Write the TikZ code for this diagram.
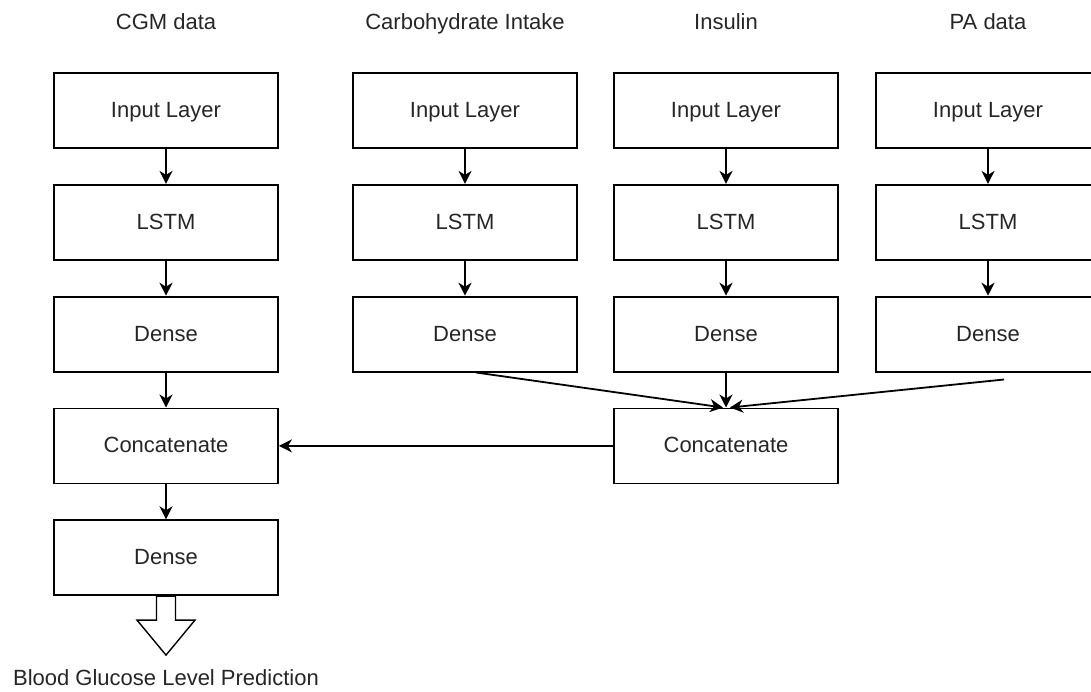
\documentclass[tikz,border=0pt]{standalone}
\usepackage{fontspec}
\setmainfont{Liberation Sans}
\usetikzlibrary{arrows.meta,positioning,calc}

\begin{document}
\begin{tikzpicture}[
    x=1pt, y=-1pt,
    % --- Styles ---
    layer/.style={draw, line width=1.8pt, minimum width=224pt, minimum height=75pt,
                  align=center, font=\fontsize{22}{26}\selectfont, text=black!85,
                  text height=16pt, text depth=2pt},
    title/.style={font=\fontsize{22}{26}\selectfont, text=black!85,
                  text height=16pt, text depth=2pt},
    flow/.style={-{Stealth[length=13pt, width=13pt, inset=4pt]}, line width=1.8pt},
    outarrow/.style={draw, line width=1.4pt, fill=white, line join=miter},
]

\useasboundingbox (0,0) rectangle (1091,691);

% === Column titles ===
\node[title] (t1) at (166,22) {CGM data};
\node[title] (t2) at (465,22) {Carbohydrate Intake};
\node[title] (t3) at (726,22) {Insulin};
\node[title] (t4) at (988,22) {PA data};

% === Input layers ===
\node[layer] (in1) at (166,110.5) {Input Layer};
\node[layer] (in2) at (465,110.5) {Input Layer};
\node[layer] (in3) at (726,110.5) {Input Layer};
\node[layer] (in4) at (988,110.5) {Input Layer};

% === LSTM layers ===
\node[layer, below=35pt of in1] (lstm1) {LSTM};
\node[layer, below=35pt of in2] (lstm2) {LSTM};
\node[layer, below=35pt of in3] (lstm3) {LSTM};
\node[layer, below=35pt of in4] (lstm4) {LSTM};

% === Dense layers ===
\node[layer, below=35pt of lstm1] (dense1) {Dense};
\node[layer, below=35pt of lstm2] (dense2) {Dense};
\node[layer, below=35pt of lstm3] (dense3) {Dense};
\node[layer, below=35pt of lstm4] (dense4) {Dense};

% === Merging and output ===
\node[layer, below=35pt of dense1] (cat1) {Concatenate};
\node[layer, below=35pt of dense3] (cat2) {Concatenate};
\node[layer, below=35pt of cat1] (out) {Dense};

% === Column arrows ===
\draw[flow] (in1) -- (lstm1);
\draw[flow] (in2) -- (lstm2);
\draw[flow] (in3) -- (lstm3);
\draw[flow] (in4) -- (lstm4);
\draw[flow] (lstm1) -- (dense1);
\draw[flow] (lstm2) -- (dense2);
\draw[flow] (lstm3) -- (dense3);
\draw[flow] (lstm4) -- (dense4);
\draw[flow] (dense1) -- (cat1);
\draw[flow] (cat1) -- (out);

% === Converging into second concatenate ===
\coordinate (d2out) at ($(dense2.south)+(11,0)$);
\coordinate (d4out) at ($(dense4.south)+(16,7)$);
\draw[flow] (d2out) -- ([xshift=-3pt]cat2.north);
\draw[flow] (dense3) -- (cat2);
\draw[flow] (d4out) -- ([xshift=4pt]cat2.north);
\draw[flow] (cat2) -- (cat1);

% === Prediction output ===
\coordinate (tip) at ($(out.south)+(0,59)$);
\draw[outarrow] ($(out.south)+(-9.5,0)$) -- ++(0,24) -- ++(-19.5,0) -- (tip)
    -- ++(29,-35) -- ++(-19.5,0) -- ++(0,-24) -- cycle;
\node[title] (pred) at (166,678) {Blood Glucose Level Prediction};

\end{tikzpicture}
\end{document}
